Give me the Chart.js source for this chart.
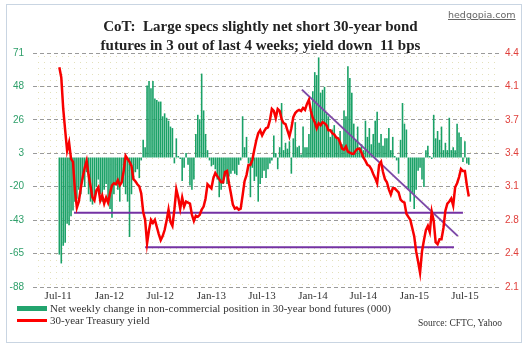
<!DOCTYPE html>
<html lang="en">
<head>
    <meta charset="utf-8">
    <script src="https://cdn.jsdelivr.net/npm/chart.js@4.4.1/dist/chart.umd.min.js"></script>
    <style>
        body { margin: 0; background: #fff; }
        #wrap { position: relative; width: 529px; height: 345px; background: #fff; overflow: hidden; }
        #frame { position: absolute; left: 6px; top: 4px; width: 514px; height: 337px; border: 1px solid #c9d5e2; }
        canvas { position: absolute; left: 0; top: 0; }
        .site { position: absolute; left: 448px; top: 9px; font: 9.5px "DejaVu Sans", sans-serif; color: #666; text-decoration: underline; }
        .title { position: absolute; left: 0; width: 521px; top: 17px; text-align: center; font: bold 15px "Liberation Serif", serif; line-height: 19px; color: #222; }
        .legend { position: absolute; left: 17px; top: 302px; font: 11px "Liberation Serif", serif; color: #333; line-height: 12px; }
        .legend div { position: relative; padding-left: 33px; white-space: nowrap; }
        .legend .sw { position: absolute; left: 0; width: 30px; }
        .source { position: absolute; left: 418px; top: 318px; font: 9.5px "Liberation Serif", serif; color: #333; }
    </style>
</head>
<body>
<div id="wrap">
    <div id="frame"></div>
    <canvas id="myChart" width="529" height="345"></canvas>
    <div class="site">hedgopia.com</div>
    <div class="title">CoT:&nbsp; Large specs slightly net short 30-year bond<br>futures in 3 out of last 4 weeks; yield down&nbsp; 11 bps</div>
    <div class="legend">
        <div><span class="sw" style="top:4px;height:5px;background:#22a46e"></span>Net weekly change in non-commercial position in 30-year bond futures (000)</div>
        <div><span class="sw" style="top:5px;height:2.5px;background:#ff0000"></span>30-year Treasury yield</div>
    </div>
    <div class="source">Source: CFTC, Yahoo</div>
</div>

<script>
    // weekly data, week 0 = first week of Jul 2011
    var netChange = [
        -66, -72, -60, -58, -45, -46, -40, -36, -30, -28, -22, -25, -15, -20, -10, -25, -30, -32, -28, -20,
        -15, -25, -30, -22, -18, -28, -35, -41, -25, -18, -22, -30, -15, -20, -25, -30, -54, -25, -15, -10,
        -8, -14, -2, 12, 7, 49, 52, 47, 52, 40, 39, 38, 38, 28, 30, 27, 25, 21, 20, -4,
        13, 1, -1, -16, -7, 3, -5, -19, -22, -15, 16, 29, 26, 57, 32, 16, 5, -2, -6, -5,
        -8, -15, -27, -22, -18, -13, -18, -13, -11, -9, -11, -12, -5, -2, 28, 7, 14, -4, -27, -7,
        -16, -13, -30, -18, -14, -9, -14, -8, -4, -2, 15, 3, -8, 7, 37, 5, 10, 6, 11, -11,
        13, 24, 7, 8, 2, 21, 7, 7, 16, 32, 45, 58, 56, 68, 44, 46, 48, 30, 28, 14,
        19, 22, 14, 12, 18, 9, 32, 28, 62, 54, 44, 23, 12, 21, 7, 9, 5, 25, 14, 20,
        9, 16, 25, 31, 10, 16, 8, 13, 13, 20, 5, 14, 1, -2, -11, 12, 37, 23, 19, -22,
        -30, -24, -35, -22, -9, -7, -15, -20, 5, 8, 1, -1, 29, 13, 18, 12, 21, 5, 10, 5,
        27, 5, 7, 5, 23, 17, 14, -3, 11, -4, -5
    ];
    var yield30 = [
        4.26, 4.16, 3.85, 3.64, 3.44, 3.52, 3.36, 3.33, 3.05, 2.88, 2.94, 3.07, 3.18, 3.27, 3.34, 3.20, 3.09, 2.98, 2.95, 3.05,
        3.08, 2.95, 3.00, 2.92, 2.98, 2.93, 3.02, 3.10, 3.12, 3.11, 3.15, 3.10, 3.13, 3.24, 3.39, 3.36, 3.33, 3.29, 3.16, 3.14,
        3.11, 3.09, 3.02, 2.84, 2.76, 2.53, 2.66, 2.76, 2.73, 2.76, 2.69, 2.62, 2.56, 2.60, 2.66, 2.75, 2.86, 2.74, 2.70, 2.86,
        3.06, 2.98, 2.87, 2.98, 2.89, 2.94, 2.93, 2.92, 2.81, 2.75, 2.80, 2.79, 2.81, 2.86, 2.89, 2.97, 3.11, 3.09, 3.07, 3.17,
        3.22, 3.19, 3.16, 3.13, 3.13, 3.23, 3.24, 3.12, 3.02, 2.91, 2.87, 2.88, 2.86, 2.87, 3.00, 3.14, 3.20, 3.30, 3.30, 3.35,
        3.45, 3.54, 3.61, 3.64, 3.59, 3.63, 3.66, 3.67, 3.74, 3.85, 3.83, 3.76, 3.85, 3.83, 3.75, 3.71, 3.70, 3.64, 3.58, 3.66,
        3.77, 3.81, 3.83, 3.84, 3.83, 3.86, 3.84, 3.90, 3.94, 3.83, 3.76, 3.72, 3.66, 3.71, 3.69, 3.72, 3.71, 3.69, 3.64, 3.64,
        3.61, 3.60, 3.57, 3.56, 3.52, 3.46, 3.45, 3.48, 3.43, 3.42, 3.41, 3.41, 3.44, 3.46, 3.46, 3.42, 3.37, 3.34, 3.30, 3.29,
        3.26, 3.21, 3.17, 3.12, 3.30, 3.33, 3.23, 3.16, 3.13, 3.06, 3.01, 3.07, 3.07, 3.05, 3.03, 2.96, 2.94, 2.93, 2.82, 2.79,
        2.76, 2.68, 2.60, 2.45, 2.35, 2.24, 2.45, 2.56, 2.66, 2.70, 2.64, 2.84, 2.75, 2.54, 2.52, 2.57, 2.57, 2.68, 2.85, 2.92,
        2.94, 2.97, 2.90, 3.08, 3.12, 3.18, 3.26, 3.24, 3.24, 3.10, 2.99
    ];

    // trend lines on the yield scale: [week, yield]
    var upperSupport = [[7.5, 2.83], [207, 2.83]];
    var lowerSupport = [[44, 2.49], [202.4, 2.49]];
    var downTrend = [[124.4, 4.04], [204.4, 2.60]];

    var tickWeeks = [-0.6, 25.7, 51.7, 78.0, 103.9, 130.1, 155.9, 182.1, 208.0];
    var tickLabels = ["Jul-11", "Jan-12", "Jul-12", "Jan-13", "Jul-13", "Jan-14", "Jul-14", "Jan-15", "Jul-15"];

    var leftMin = -88, leftMax = 71;
    var rightMin = 2.1, rightMax = 4.4;

    function pts(arr) {
        return arr.map(function (v, i) { return {x: i, y: v}; });
    }
    function segment(arr) {
        return arr.map(function (p) { return {x: p[0], y: p[1]}; });
    }
    function evenTicks(min, max) {
        var out = [];
        for (var k = 0; k <= 7; k++) out.push({value: min + k * (max - min) / 7});
        return out;
    }

    // yellowish dot texture behind the plot
    var dotBg = {
        id: 'dotBg',
        beforeDraw: function (chart) {
            var a = chart.chartArea, ctx = chart.ctx;
            var tile = document.createElement('canvas');
            tile.width = 6; tile.height = 6;
            var t = tile.getContext('2d');
            t.fillStyle = '#e4e1bb';
            t.fillRect(2, 2, 1, 1);
            ctx.save();
            ctx.fillStyle = ctx.createPattern(tile, 'repeat');
            ctx.fillRect(a.left, a.top, a.right - a.left, a.bottom - a.top);
            ctx.restore();
        }
    };

    var ctx = document.getElementById("myChart").getContext("2d");
    var myChart = new Chart(ctx, {
        type: 'bar',
        data: {
            datasets: [{
                type: 'line',
                label: '30-year Treasury yield',
                data: pts(yield30),
                yAxisID: 'yR',
                borderColor: '#f80000',
                borderWidth: 2.5,
                pointRadius: 0,
                order: 1
            }, {
                type: 'line',
                data: segment(upperSupport),
                yAxisID: 'yR',
                borderColor: '#7432a3',
                borderWidth: 2,
                pointRadius: 0,
                order: 2
            }, {
                type: 'line',
                data: segment(lowerSupport),
                yAxisID: 'yR',
                borderColor: '#7432a3',
                borderWidth: 2,
                pointRadius: 0,
                order: 2
            }, {
                type: 'line',
                data: segment(downTrend),
                yAxisID: 'yR',
                borderColor: '#7d4aa6',
                borderWidth: 2,
                pointRadius: 0,
                order: 2
            }, {
                type: 'bar',
                label: 'Net weekly change in non-commercial position in 30-year bond futures (000)',
                data: pts(netChange),
                yAxisID: 'yL',
                backgroundColor: '#1aa167',
                barThickness: 1.6,
                inflateAmount: 0,
                order: 3
            }]
        },
        options: {
            responsive: false,
            animation: false,
            devicePixelRatio: 1,
            layout: { padding: { top: 53, left: 0, right: 0, bottom: 0 } },
            plugins: {
                legend: { display: false },
                tooltip: { enabled: false }
            },
            scales: {
                x: {
                    type: 'linear',
                    min: -0.2,
                    max: 212.7,
                    grid: { display: false, drawTicks: false, tickLength: 0 },
                    border: { display: false },
                    afterBuildTicks: function (scale) {
                        scale.ticks = tickWeeks.map(function (v) { return {value: v}; });
                    },
                    afterFit: function (scale) { scale.height = 58; },
                    ticks: {
                        autoSkip: false,
                        maxRotation: 0,
                        padding: 3,
                        color: '#333',
                        font: { family: 'Liberation Serif', size: 11 },
                        callback: function (value, index) { return tickLabels[index]; }
                    }
                },
                yL: {
                    position: 'left',
                    min: leftMin,
                    max: leftMax,
                    afterBuildTicks: function (scale) { scale.ticks = evenTicks(leftMin, leftMax); },
                    afterFit: function (scale) { scale.width = 33; },
                    grid: { color: '#9a9a9a', drawTicks: false, tickLength: 0 },
                    border: { display: false, dash: [4, 3] },
                    ticks: {
                        padding: 9,
                        color: '#2e9f6a',
                        font: { family: 'Liberation Sans', size: 10 },
                        callback: function (value) { return Math.round(value); }
                    }
                },
                yR: {
                    position: 'right',
                    min: rightMin,
                    max: rightMax,
                    afterBuildTicks: function (scale) { scale.ticks = evenTicks(rightMin, rightMax); },
                    afterFit: function (scale) { scale.width = 29; },
                    grid: { display: false, drawTicks: false, tickLength: 0 },
                    border: { display: false },
                    ticks: {
                        padding: 5,
                        color: '#e0403c',
                        font: { family: 'Liberation Sans', size: 10 },
                        callback: function (value) { return value.toFixed(1); }
                    }
                }
            }
        },
        plugins: [dotBg]
    });
</script>
</body>
</html>
